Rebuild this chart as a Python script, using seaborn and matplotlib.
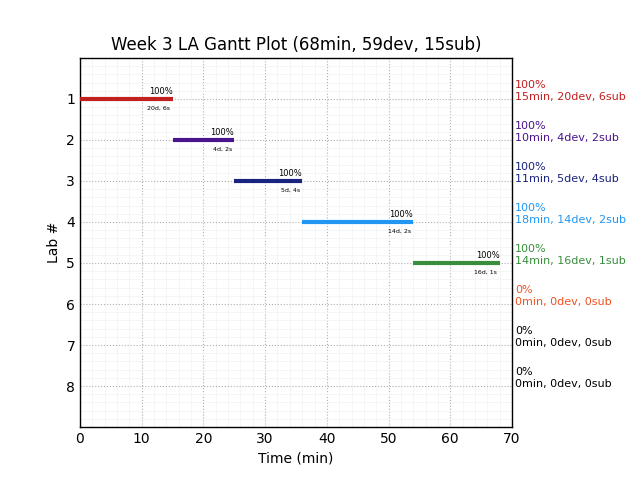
import pandas as pd
import matplotlib.pyplot as plt
import seaborn as sns
from matplotlib.ticker import MultipleLocator

labs = [1, 2, 3, 4, 5, 6, 7, 8]
starts = [0, 15, 25, 36, 54, 68, 68, 68]
ends = [15, 25, 36, 54, 68, 68, 68, 68]
pct = [100, 100, 100, 100, 100, 0, 0, 0]
devs = [20, 4, 5, 14, 16, 0, 0, 0]
subs = [6, 2, 4, 2, 1, 0, 0, 0]
colors = ['#c21f1f', '#4a148c', '#1a237e', '#2196f3', '#388e3c', '#f4511e', 'black', 'black']

sns.set_style('white')
plt.rcParams.update({'text.color': 'black', 'axes.labelcolor': 'black',
                     'xtick.color': 'black', 'ytick.color': 'black'})
fig = plt.figure(figsize=(6.4, 4.8), dpi=100)
ax = fig.add_axes([0.125, 0.1104, 0.675, 0.7688])

# long table: one start row and one end row per lab that has time
rows = []
for lab, s, e in zip(labs, starts, ends):
    if e > s:
        rows.append({'lab': lab, 'time': s})
        rows.append({'lab': lab, 'time': e})
df = pd.DataFrame(rows)
pal = {lab: c for lab, c in zip(labs, colors)}
sns.lineplot(data=df, x='time', y='lab', hue='lab', units='lab', estimator=None,
             palette=pal, linewidth=3, legend=False, ax=ax, zorder=3,
             solid_capstyle='butt')

for lab, s, e, p, d, sb, c in zip(labs, starts, ends, pct, devs, subs, colors):
    if e > s:
        ax.text(e, lab - 0.07, f'{p}%', fontsize=6, ha='right', va='bottom')
        ax.text(e - 0.4, lab + 0.22, f'{d}d, {sb}s', fontsize=4.5, ha='right', va='center')
    ax.text(70.5, lab - 0.2, f'{p}%\n{e - s}min, {d}dev, {sb}sub', fontsize=8,
            color=c, ha='left', va='center', clip_on=False)

ax.set_xlim(0, 70)
ax.set_ylim(9, 0)
ax.set_yticks(labs)
ax.xaxis.set_major_locator(MultipleLocator(10))
ax.xaxis.set_minor_locator(MultipleLocator(2))
ax.yaxis.set_minor_locator(MultipleLocator(0.2))
ax.grid(which='major', color='#b0b0b0', linestyle=':', linewidth=0.8)
ax.grid(which='minor', color='#f4f4f4', linestyle='-', linewidth=0.6)
ax.tick_params(which='both', length=0, labelsize=10)
for sp in ax.spines.values():
    sp.set_color('black')
    sp.set_linewidth(1)

ax.set_title('Week 3 LA Gantt Plot (68min, 59dev, 15sub)', fontsize=12)
ax.set_xlabel('Time (min)', fontsize=10)
ax.set_ylabel('Lab #', fontsize=10)

fig.savefig('out.png', dpi=100)
